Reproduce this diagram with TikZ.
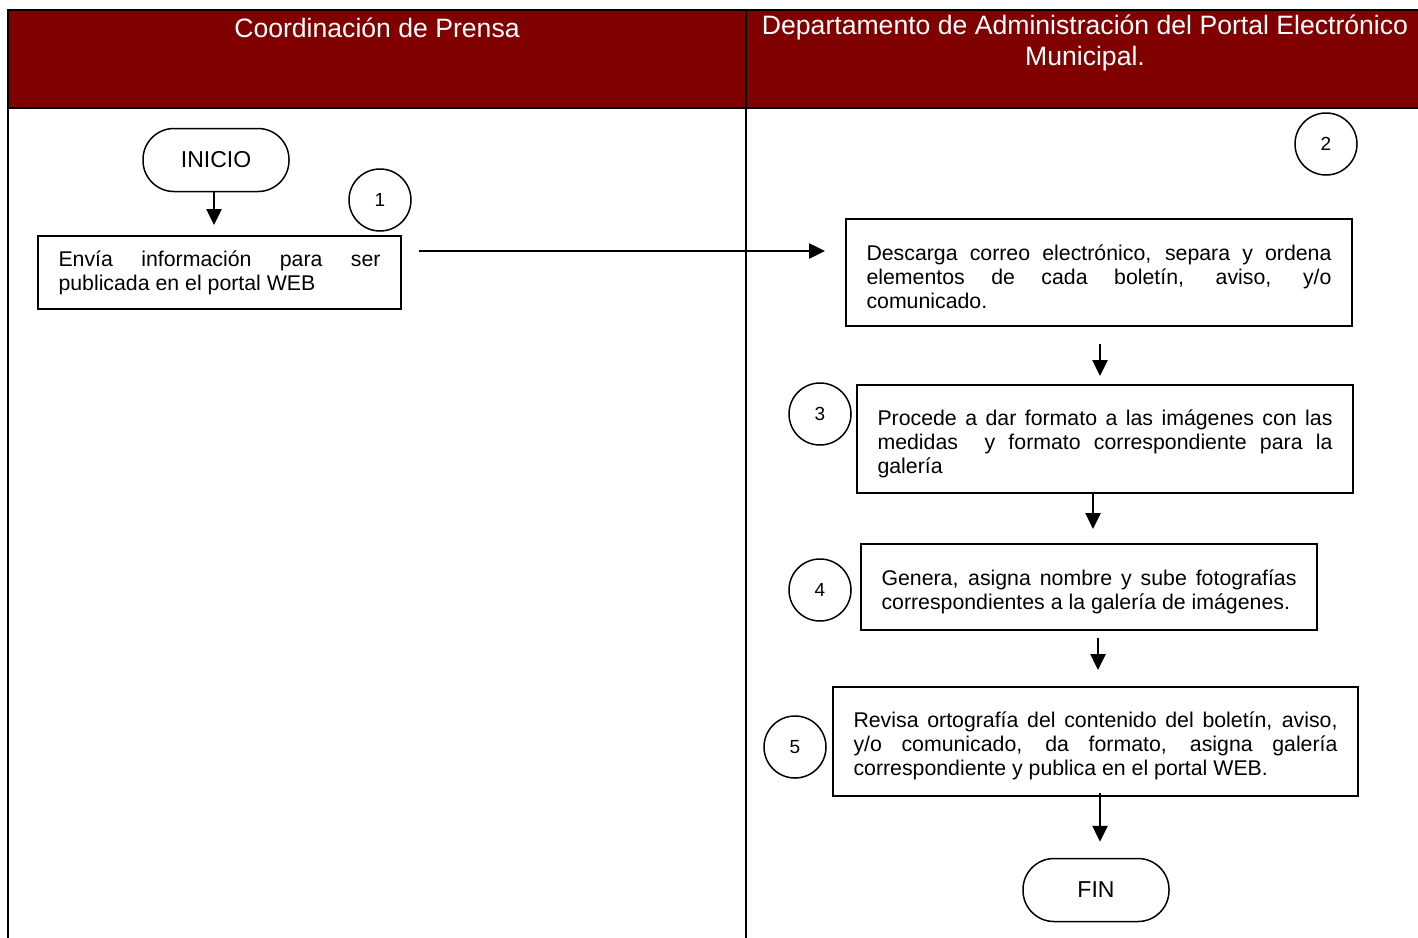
\documentclass[tikz,border=0pt]{standalone}
\usepackage{fontspec}
\setmainfont{Liberation Sans}
\usepackage{xcolor}
\usetikzlibrary{positioning,calc}
\usetikzlibrary{arrows.meta}
\definecolor{guinda}{RGB}{128,0,0}
\hyphenpenalty=10000
\tolerance=9999
\newcommand{\padtop}{\rule{0pt}{25pt}}
\tikzset{
	>={Triangle[length=16pt,width=15pt]},
	header/.style={text=white,font=\fontsize{26.6}{31}\selectfont,align=center},
	terminal/.style={draw,line width=1.5pt,rectangle,rounded corners=31pt,minimum width=146pt,minimum height=63pt,font=\fontsize{23}{27}\selectfont},
	stepbox/.style={draw,line width=2pt,rectangle,inner xsep=20.5pt,inner ysep=0pt,align=justify,font=\fontsize{21.3}{24}\selectfont},
	stepnum/.style={draw,circle,line width=1.5pt,minimum size=62pt,inner sep=0pt,font=\fontsize{19}{22}\selectfont},
	line/.style={draw,->,line width=2.5pt},
}

\begin{document}
\begin{tikzpicture}[x=1pt,y=-1pt]
	\useasboundingbox (0,0) rectangle (1418,937);
	
	% Lanes
	\fill[guinda] (8,10) rectangle (1430,108);
	\draw[line width=2.5pt] (1430,10) -- (8,10) -- (8,945);
	\draw[line width=2.5pt] (8,108) -- (1430,108);
	\draw[line width=2pt] (746,10) -- (746,945);
	\node[header] (laneA) at (377,28) {Coordinación de Prensa};
	\node[header] (laneB) at (1085,43) {Departamento de Administración del Portal Electrónico\\Municipal.};
	
	% Coordinacion de Prensa
	\node[terminal] (inicio) at (216,160) {INICIO};
	\node[stepbox,text width=322pt,minimum height=73pt] (envia) at (219.5,272.5) {Envía información para ser publicada en el portal WEB};
	\node[stepnum] (num1) at (380,200) {1};
	
	% Portal Electronico
	\node[stepnum] (num2) at (1326,144) {2};
	\node[stepbox,text width=465pt,minimum height=107pt] (descarga) at (1099,272.5) {\padtop Descarga correo electrónico, separa y ordena elementos de cada boletín, aviso, y/o\linebreak comunicado.};
	\node[stepbox,text width=455pt,minimum height=108pt] (formato) at (1105,439) {\padtop Procede a dar formato a las imágenes con las medidas~ y formato correspondiente para la galería};
	\node[stepnum] (num3) at (820,414) {3};
	\node[stepbox,text width=415pt,minimum height=86pt] (genera) at (1089,587) {\padtop Genera, asigna nombre y sube fotografías correspondientes a la galería de imágenes.};
	\node[stepnum] (num4) at (820,590) {4};
	\node[stepbox,text width=484pt,minimum height=109pt] (revisa) at (1095.5,741.5) {\padtop Revisa ortografía del contenido del boletín, aviso,\linebreak y/o comunicado, da formato, asigna galería correspondiente y publica en el portal WEB.};
	\node[stepnum] (num5) at (795,747) {5};
	\node[terminal] (fin) at (1096,890) {FIN};
	
	% Draw connections
	\draw[line,shorten >=10pt] ([xshift=-2pt]inicio.south) -- ([xshift=-2pt]inicio.south |- envia.north);
	\draw[line,shorten <=17pt,shorten >=20pt] ([yshift=21.5pt]envia.east) -- ([yshift=21.5pt]envia.east -| descarga.west);
	\draw[line,shorten <=17pt,shorten >=8pt] ([xshift=1pt]descarga.south) -- ([xshift=1pt]descarga.south |- formato.north);
	\draw[line,shorten >=14pt] ([xshift=-12pt]formato.south) -- ([xshift=-12pt]formato.south |- genera.north);
	\draw[line,shorten <=7pt,shorten >=16pt] ([xshift=9pt]genera.south) -- ([xshift=9pt]genera.south |- revisa.north);
	\draw[line,shorten <=-4pt,shorten >=16pt] ([xshift=4.5pt]revisa.south) -- ([xshift=4.5pt]revisa.south |- fin.north);
\end{tikzpicture}
\end{document}
